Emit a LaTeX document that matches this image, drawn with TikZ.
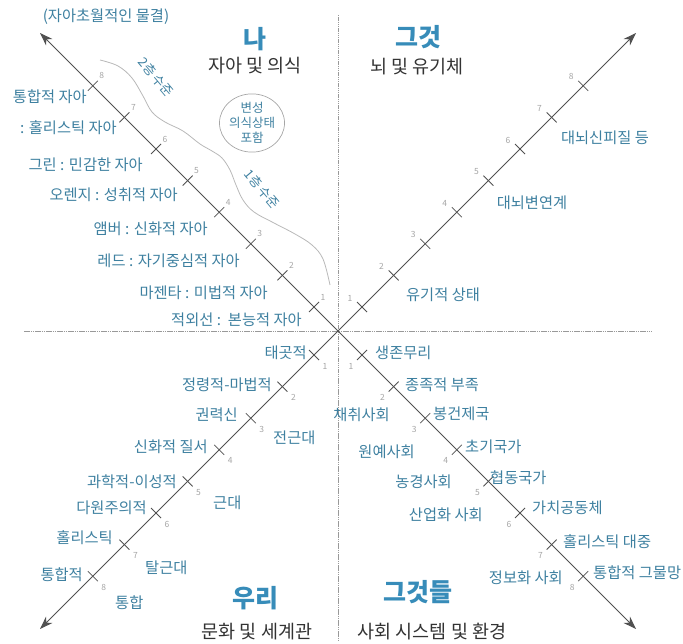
\documentclass[tikz,border=0pt]{standalone}
\usepackage{fontspec}
\setmainfont{Noto Sans CJK KR}
\usetikzlibrary{arrows.meta,calc,shapes.geometric}
\definecolor{lab}{RGB}{62,128,160}
\definecolor{ttl}{RGB}{55,140,185}
\definecolor{axisc}{RGB}{80,80,80}
\definecolor{numc}{RGB}{165,165,165}
\begin{document}
\begin{tikzpicture}[x=1pt,y=-1pt,
 lbl/.style={text=lab,font=\fontsize{15.3}{17}\selectfont,inner sep=0pt},
 ttlstyle/.style={text=ttl,font=\fontsize{25}{27}\selectfont\bfseries,inner sep=0pt},
 sub/.style={text=black!80,font=\fontsize{18.5}{20}\selectfont,inner sep=0pt},
 numl/.style={text=numc,font=\fontsize{8.5}{9}\selectfont,inner sep=0pt},
 ax/.style={draw=axisc,line width=1pt,-{Stealth[length=13pt,width=9pt,inset=4pt]}},
 tk/.style={draw=axisc,line width=0.8pt},
 gridl/.style={draw=black!40,line width=0.6pt,dash pattern=on 1.5pt off 0.7pt},
 wave/.style={draw=black!28,line width=0.8pt},
 rot/.style={text=lab,font=\fontsize{13}{14}\selectfont,inner sep=0pt,rotate=-50}]
\useasboundingbox (0,0) rectangle (683,644);
\coordinate (C) at (338,331);
\coordinate (UL) at (40,33);
\coordinate (UR) at (636,33);
\coordinate (LL) at (40,629);
\coordinate (LR) at (636,629);
\coordinate (HL) at (24,331);
\coordinate (HR) at (652,331);
\coordinate (VT) at (338,15);
\coordinate (VB) at (338,642);
% grid lines
\draw[gridl] (HL) -- (HR);
\draw[gridl] (VT) -- (VB);
% axes
\draw[ax] (C) -- (UL);
\draw[ax] (C) -- (UR);
\draw[ax] (C) -- (LL);
\draw[ax] (C) -- (LR);
% ticks and numbers
\foreach \k in {1,...,8}{
  \pgfmathsetmacro\d{24+31.6*(\k-1)}
  \coordinate (ul\k) at ($(C)+(-\d,-\d)$);
  \coordinate (ur\k) at ($(C)+(\d,-\d)$);
  \coordinate (ll\k) at ($(C)+(-\d,\d)$);
  \coordinate (lr\k) at ($(C)+(\d,\d)$);
  \draw[tk] ($(ul\k)+(5,-5)$) -- ($(ul\k)+(-5,5)$);
  \draw[tk] ($(lr\k)+(5,-5)$) -- ($(lr\k)+(-5,5)$);
  \draw[tk] ($(ur\k)+(5,5)$) -- ($(ur\k)+(-5,-5)$);
  \draw[tk] ($(ll\k)+(5,5)$) -- ($(ll\k)+(-5,-5)$);
  \node[numl] (nul\k) at ($(ul\k)+(9,-10)$) {\k};
  \node[numl] (nur\k) at ($(ur\k)+(-12,-9)$) {\k};
  \node[numl] (nll\k) at ($(ll\k)+(11,11)$) {\k};
  \node[numl] (nlr\k) at ($(lr\k)+(-11,11)$) {\k};
}
% wavy level line
\draw[wave] plot[smooth,tension=0.6] coordinates {(100,60) (118,66) (132,78) (143,96) (152,112) (165,122) (183,131) (200,144) (212,151) (222,158) (230,170) (236,185) (243,200) (254,212) (274,223) (295,234) (312,245) (323,259) (330,285)};
\node[rot] (lv2) at (156,77) {2층 수준};
\node[rot] (lv1) at (262,189) {1층 수준};
% titles
\node[ttlstyle] (t1) at (255,39) {나};
\node[sub] (s1) at (255,66) {자아 및 의식};
\node[ttlstyle] (t2) at (418,37) {그것};
\node[sub] (s2) at (417,67) {뇌 및 유기체};
\node[ttlstyle] (t3) at (255,598) {우리};
\node[sub] (s3) at (257,632) {문화 및 세계관};
\node[ttlstyle] (t4) at (418,592) {그것들};
\node[sub] (s4) at (432,632) {사회 시스템 및 환경};
% circle
\node[ellipse,draw=black!35,line width=0.7pt,minimum width=50,minimum height=57,inner sep=0pt,
  text=lab,align=center,font=\fontsize{12.5}{15}\selectfont] (cir) at (252,123) {변성\\의식상태\\포함};
% top label
\node[lbl] (top) at (106,17) {(자아초월적인 물결)};
% upper-left labels
\node[lbl,anchor=east] (a8) at (87,97) {통합적 자아};
\node[lbl,anchor=east] (a7) at (117,128) {: 홀리스틱 자아};
\node[lbl,anchor=east] (a6) at (143,165) {그린 : 민감한 자아};
\node[lbl,anchor=east] (a5) at (178,195) {오렌지 : 성취적 자아};
\node[lbl,anchor=east] (a4) at (208,229) {앰버 : 신화적 자아};
\node[lbl,anchor=east] (a3) at (240,261) {레드 : 자기중심적 자아};
\node[lbl,anchor=east] (a2) at (268,293) {마젠타 : 미법적 자아};
\node[lbl,anchor=east] (a1) at (302,320) {적외선 :\ \ 본능적 자아};
% upper-right labels
\node[lbl] (b3) at (605,138) {대뇌신피질 등};
\node[lbl] (b2) at (532,203) {대뇌변연계};
\node[lbl] (b1) at (443,295) {유기적 상태};
% lower-left labels
\node[lbl,anchor=east] (c1) at (307,353) {태곳적};
\node[lbl,anchor=east] (c2) at (272,385) {정령적-마법적};
\node[lbl,anchor=east] (c3) at (238,415) {권력신};
\node[lbl,anchor=east] (c4) at (208,447) {신화적 질서};
\node[lbl,anchor=east] (c5) at (177,482) {과학적-이성적};
\node[lbl,anchor=east] (c6) at (147,508) {다원주의적};
\node[lbl,anchor=east] (c7) at (113,538) {홀리스틱};
\node[lbl,anchor=east] (c8) at (83,575) {통합적};
\node[lbl,anchor=west] (d1) at (273,438) {전근대};
\node[lbl,anchor=west] (d2) at (213,503) {근대};
\node[lbl,anchor=west] (d3) at (145,568) {탈근대};
\node[lbl,anchor=west] (d4) at (115,603) {통합};
% lower-right labels
\node[lbl,anchor=west] (e1) at (375,353) {생존무리};
\node[lbl,anchor=west] (e2) at (405,385) {종족적 부족};
\node[lbl,anchor=west] (e3) at (433,414) {봉건제국};
\node[lbl,anchor=west] (e4) at (465,447) {초기국가};
\node[lbl,anchor=west] (e5) at (490,478) {협동국가};
\node[lbl,anchor=west] (e6) at (532,508) {가치공동체};
\node[lbl,anchor=west] (e7) at (563,542) {홀리스틱 대중};
\node[lbl,anchor=west] (e8) at (593,573) {통합적 그물망};
\node[lbl,anchor=east] (f1) at (390,415) {채취사회};
\node[lbl,anchor=east] (f2) at (415,452) {원예사회};
\node[lbl,anchor=east] (f3) at (452,482) {농경사회};
\node[lbl,anchor=east] (f4) at (483,515) {산업화 사회};
\node[lbl,anchor=east] (f5) at (563,578) {정보화 사회};
\end{tikzpicture}
\end{document}
